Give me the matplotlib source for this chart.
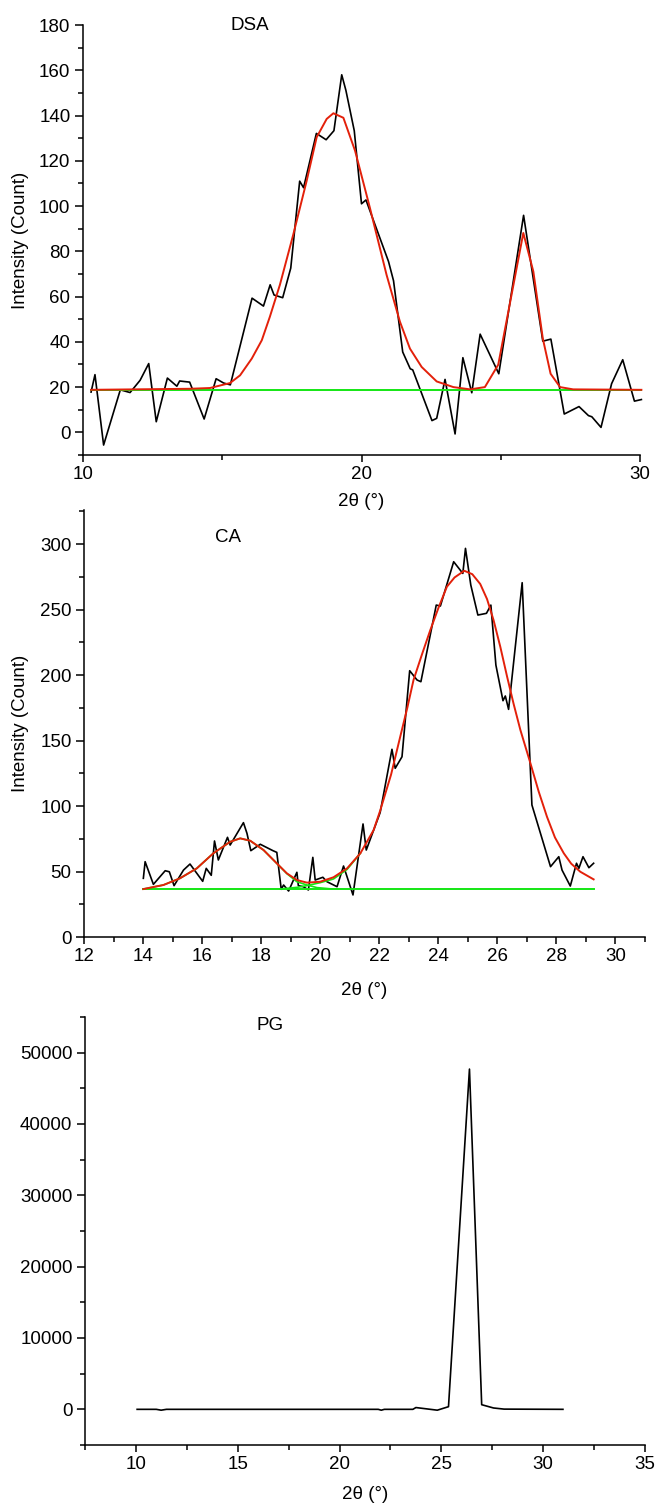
import matplotlib
matplotlib.use("Agg")
import matplotlib.pyplot as plt
from matplotlib.ticker import MultipleLocator

plt.rcParams['font.family'] = ['Liberation Sans', 'DejaVu Sans']

# ---- DSA ----
dsa_x = [10.29, 10.43, 10.74, 11.34, 11.69, 12.05, 12.36, 12.63, 13.03, 13.37,
         13.47, 13.83, 14.35, 14.78, 15.05, 15.29, 16.07, 16.48, 16.72, 16.86,
         17.17, 17.46, 17.78, 17.92, 18.38, 18.73, 19.01, 19.29, 19.44, 19.74,
         20.0, 20.16, 20.97, 21.15, 21.48, 21.75, 21.84, 22.53, 22.7, 23.0,
         23.36, 23.64, 23.96, 24.26, 24.93, 25.82, 26.51, 26.8, 27.28, 27.81,
         28.15, 28.27, 28.6, 28.98, 29.38, 29.8, 30.05]
dsa_y = [17.8, 25.5, -5.6, 18.8, 17.6, 23.0, 30.4, 4.7, 24.0, 20.4,
         22.7, 22.2, 5.9, 23.7, 21.8, 21.0, 59.3, 55.8, 65.2, 60.7,
         59.5, 72.6, 111.0, 108.1, 132.1, 129.3, 133.3, 158.0, 151.1, 133.3,
         101.0, 102.7, 75.5, 67.0, 35.5, 28.1, 27.6, 5.2, 6.2, 23.4,
         -0.7, 33.0, 17.5, 43.4, 25.9, 95.9, 40.3, 41.2, 8.1, 11.4,
         7.4, 6.9, 2.2, 21.5, 32.1, 13.8, 14.5]

dsa_fit_x = [10.29, 13.84, 14.56, 15.28, 15.64, 16.06, 16.42, 16.71, 17.07, 17.55,
             18.03, 18.39, 18.75, 18.99, 19.35, 19.77, 20.3, 20.9, 21.38, 21.74,
             22.16, 22.7, 23.3, 23.9, 24.43, 24.91, 25.81, 26.17, 26.51, 26.79,
             27.13, 27.6, 30.05]
dsa_fit_y = [18.8, 19.26, 19.6, 21.8, 25.2, 32.6, 40.7, 51.1, 65.2, 87.4,
             111.1, 130.4, 138.5, 141.0, 139.0, 124.4, 99.3, 69.6, 48.9, 37.0,
             28.9, 22.5, 20.0, 19.0, 20.0, 29.9, 88.1, 71.1, 41.5, 25.9,
             20.0, 19.0, 18.8]

dsa_base_x = [10.29, 30.05]
dsa_base_y = [18.8, 18.8]

# ---- CA ----
ca_x = [14.01, 14.07, 14.35, 14.75, 14.89, 15.05, 15.37, 15.59, 16.02, 16.14,
        16.31, 16.42, 16.55, 16.86, 16.95, 17.4, 17.52, 17.65, 17.97, 18.4,
        18.53, 18.68, 18.76, 18.93, 19.21, 19.26, 19.43, 19.6, 19.75, 19.83,
        20.09, 20.23, 20.57, 20.79, 21.11, 21.45, 21.56, 22.03, 22.43, 22.54,
        22.77, 23.03, 23.28, 23.41, 23.93, 24.07, 24.52, 24.83, 24.92, 25.1,
        25.34, 25.63, 25.78, 25.95, 26.19, 26.27, 26.38, 26.84, 27.17, 27.8,
        28.08, 28.19, 28.47, 28.68, 28.76, 28.9, 29.1, 29.26]
ca_y = [44.8, 57.5, 40.2, 50.6, 49.8, 39.2, 51.1, 55.7, 42.5, 52.4,
        47.1, 73.3, 58.8, 76.1, 70.2, 87.3, 79.1, 65.9, 70.8, 65.9,
        64.6, 36.4, 39.7, 35.1, 49.4, 39.2, 38.4, 35.9, 60.8, 43.5,
        45.6, 42.2, 38.4, 54.2, 32.1, 86.3, 66.4, 95.0, 143.3, 128.8,
        137.6, 203.3, 196.2, 194.9, 253.4, 252.7, 286.5, 277.6, 296.7, 268.7,
        245.8, 247.1, 253.4, 207.6, 180.4, 184.0, 173.8, 270.5, 100.8, 53.7,
        61.3, 51.1, 38.9, 56.3, 52.4, 61.3, 52.9, 56.3]

ca_fit_x = [14.01, 14.69, 15.25, 15.82, 16.38, 16.95, 17.29, 17.63, 18.08, 18.53,
            18.87, 19.21, 19.55, 20.0, 20.45, 20.91, 21.36, 21.81, 22.03, 22.4,
            22.71, 22.95, 23.16, 23.45, 23.73, 24.0, 24.29, 24.55, 24.88, 25.15,
            25.42, 25.65, 25.87, 26.1, 26.33, 26.55, 26.78, 27.12, 27.4, 27.68,
            27.95, 28.25, 28.5, 28.81, 29.26]
ca_fit_y = [36.6, 39.7, 44.8, 52.4, 63.9, 72.7, 75.3, 73.5, 66.4, 56.2,
            48.6, 43.5, 41.5, 42.2, 45.6, 52.4, 63.9, 81.7, 96.4, 124.0,
            152.9, 175.0, 196.2, 216.0, 234.4, 251.0, 267.4, 274.5, 279.6, 277.0,
            269.5, 258.0, 242.0, 221.5, 198.7, 178.0, 158.0, 132.6, 111.0, 91.8,
            76.0, 63.9, 56.0, 49.8, 44.0]

# component curves (peak + baseline)
ca_comp1_x = [14.01, 14.69, 15.25, 15.82, 16.38, 16.95, 17.29, 17.63, 18.08, 18.53,
              18.87, 19.21, 19.55, 19.89, 20.34, 20.6]
ca_comp1_y = [36.6, 39.7, 44.8, 52.4, 63.9, 72.7, 75.3, 73.5, 66.4, 56.2,
              48.4, 42.2, 39.7, 37.7, 36.8, 36.6]
ca_comp2_x = [18.64, 19.21, 19.55, 20.0, 20.45, 20.91, 21.36]
ca_comp2_y = [36.6, 37.9, 39.2, 41.5, 44.3, 51.6, 63.9]

ca_base_x = [14.01, 29.26]
ca_base_y = [36.6, 36.6]

# ---- PG ----
pg_x = [10.06, 11.0, 11.24, 11.5, 21.9, 22.05, 22.2, 23.6, 23.75, 24.8,
        25.35, 26.38, 26.98, 27.56, 28.08, 30.97]
pg_y = [0, 0, -120, 0, 0, -120, 0, 0, 250, -120,
        370, 47700, 650, 190, 30, 0]

black = '#000000'
red = '#e3200a'
green = '#14e614'
lw = 1.2
fs = 13.5

fig = plt.figure(figsize=(6.55, 15.05), dpi=100)

ax1 = fig.add_axes([83 / 655, 1 - 455 / 1505, 557 / 655, 430 / 1505])
ax2 = fig.add_axes([84 / 655, 1 - 937 / 1505, 561 / 655, 427 / 1505])
ax3 = fig.add_axes([85 / 655, 1 - 1445 / 1505, 560 / 655, 428 / 1505])

# 1 DSA
ax1.plot(dsa_x, dsa_y, color=black, lw=lw, clip_on=False, zorder=2)
ax1.plot(dsa_base_x, dsa_base_y, color=green, lw=1.4, clip_on=False, zorder=3)
ax1.plot(dsa_fit_x, dsa_fit_y, color=red, lw=1.4, clip_on=False, zorder=4)
ax1.set_xlim(10, 30)
ax1.set_ylim(-10, 180)
ax1.xaxis.set_major_locator(MultipleLocator(10))
ax1.xaxis.set_minor_locator(MultipleLocator(5))
ax1.yaxis.set_major_locator(MultipleLocator(20))
ax1.yaxis.set_minor_locator(MultipleLocator(10))
ax1.text(0.30, 1.0, 'DSA', transform=ax1.transAxes, ha='center', va='center', fontsize=fs)
ax1.set_ylabel('Intensity (Count)', fontsize=fs)
ax1.yaxis.set_label_coords(-0.097, 0.5)

# 2 CA
ax2.plot(ca_x, ca_y, color=black, lw=lw, zorder=2)
ax2.plot(ca_base_x, ca_base_y, color=green, lw=1.4, zorder=3)
ax2.plot(ca_comp1_x, ca_comp1_y, color=green, lw=1.2, zorder=3)
ax2.plot(ca_comp2_x, ca_comp2_y, color=green, lw=1.2, zorder=3)
ax2.plot(ca_fit_x, ca_fit_y, color=red, lw=1.4, zorder=4)
ax2.set_xlim(12, 31)
ax2.set_ylim(0, 326)
ax2.xaxis.set_major_locator(MultipleLocator(2))
ax2.xaxis.set_minor_locator(MultipleLocator(1))
ax2.yaxis.set_major_locator(MultipleLocator(50))
ax2.yaxis.set_minor_locator(MultipleLocator(25))
ax2.text(0.257, 0.936, 'CA', transform=ax2.transAxes, ha='center', va='center', fontsize=fs)
ax2.set_ylabel('Intensity (Count)', fontsize=fs)
ax2.yaxis.set_label_coords(-0.098, 0.5)

# 3 PG
ax3.plot(pg_x, pg_y, color=black, lw=lw, zorder=2)
ax3.set_xlim(7.5, 35)
ax3.set_ylim(-5000, 55000)
ax3.xaxis.set_major_locator(MultipleLocator(5))
ax3.xaxis.set_minor_locator(MultipleLocator(2.5))
ax3.yaxis.set_major_locator(MultipleLocator(10000))
ax3.yaxis.set_minor_locator(MultipleLocator(5000))
ax3.text(0.33, 0.98, 'PG', transform=ax3.transAxes, ha='center', va='center', fontsize=fs)

label_y = [-38 / 430, -45 / 427, -41 / 428]
for ax, ly in zip([ax1, ax2, ax3], label_y):
    for s in ['top', 'right']:
        ax.spines[s].set_visible(False)
    for s in ['left', 'bottom']:
        ax.spines[s].set_linewidth(1.1)
    ax.tick_params(which='major', direction='out', width=1.1, labelsize=fs, pad=3)
    ax.tick_params(axis='y', which='major', length=6)
    ax.tick_params(axis='x', which='major', length=5)
    ax.tick_params(which='minor', direction='out', length=3.5, width=1.1)
    ax.set_xlabel('2θ (°)', fontsize=fs)
    ax.xaxis.set_label_coords(0.5, ly)

fig.savefig('out.png', dpi=100)
